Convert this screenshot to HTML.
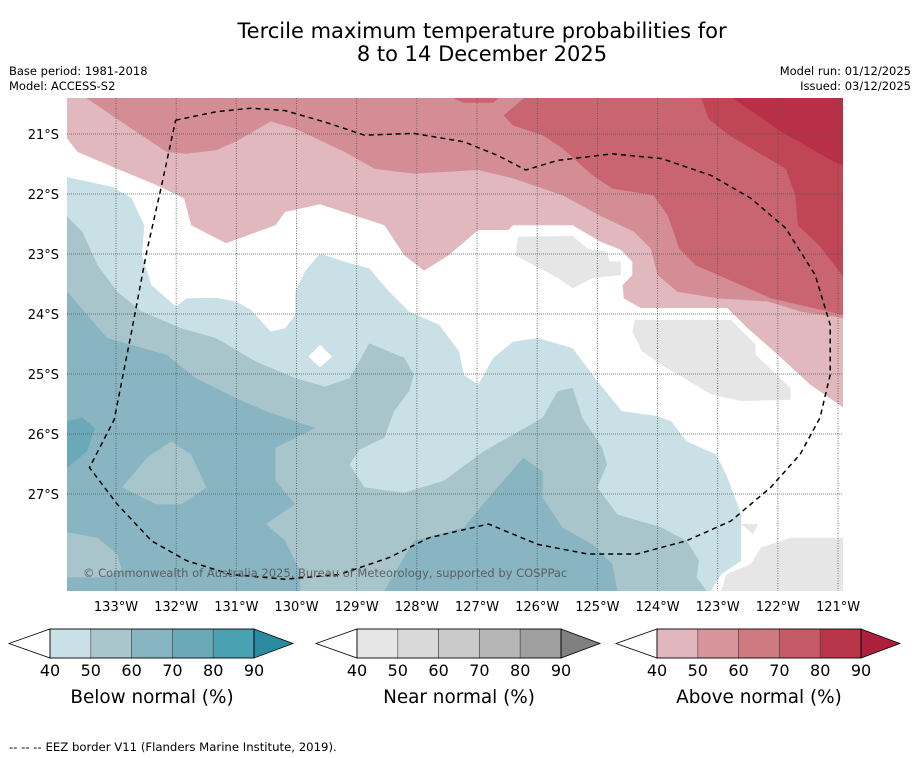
<!DOCTYPE html>
<html><head><meta charset="utf-8">
<style>
html,body{margin:0;padding:0;background:#fff;}
svg{display:block;font-family:"DejaVu Sans","Liberation Sans",sans-serif;}
</style></head>
<body>
<svg id="chart" width="919" height="758" viewBox="0 0 919 758">
<rect x="0" y="0" width="919" height="758" fill="#fff"/>
<text x="482" y="38" font-size="21" text-anchor="middle" fill="#000">Tercile maximum temperature probabilities for</text>
<text x="482" y="61" font-size="21" text-anchor="middle" fill="#000">8 to 14 December 2025</text>
<text x="9" y="75" font-size="11.5" fill="#000">Base period: 1981-2018</text>
<text x="9" y="90" font-size="11.5" fill="#000">Model: ACCESS-S2</text>
<text x="911" y="75" font-size="11.5" fill="#000" text-anchor="end">Model run: 01/12/2025</text>
<text x="911" y="90" font-size="11.5" fill="#000" text-anchor="end">Issued: 03/12/2025</text>
<defs><clipPath id="mapclip"><rect x="67" y="98" width="776" height="493"/></clipPath></defs>
<g id="map" clip-path="url(#mapclip)"></g>
<g id="axes"></g>
<g id="bars"></g>
<text x="9" y="751" font-size="11.7" fill="#000">--  --  -- EEZ border V11 (Flanders Marine Institute, 2019).</text>
</svg>
<script>
// ---- data ----
const lonTicks = [133,132,131,130,129,128,127,126,125,124,123,122,121];
const latTicks = [21,22,23,24,25,26,27];
const cbLevels = ["40","50","60","70","80","90"];
const belowColors = ["#c9e0e6","#a8c6cc","#88b5c2","#6aaab8","#49a1b1"];
const belowExt = "#2b8ba0";
const nearColors = ["#e6e6e6","#d9d9d9","#cacaca","#b6b6b6","#a0a0a0"];
const nearExt = "#808080";
const aboveColors = ["#e1b7bd","#d8949b","#cf7a81","#c55b67","#b9364a"];
const aboveExt = "#ad1f3a";

// contour regions [lonW, latS]
const above40 = [[133.9,21.08],[133.81,21.08],[133.64,21.30],[132.98,21.58],[132.33,21.85],[131.87,22.07],[131.75,22.52],[131.17,22.82],[130.35,22.52],[130.19,22.30],[129.61,22.17],[128.54,22.52],[128.21,23.02],[127.88,23.28],[127.47,23.02],[126.98,22.60],[126.48,22.60],[126.40,22.52],[125.41,22.52],[124.94,22.80],[124.61,22.93],[124.42,23.13],[124.42,23.35],[124.58,23.52],[124.56,23.74],[124.28,23.90],[122.84,23.90],[122.50,24.24],[122.12,24.57],[121.46,25.18],[120.9,25.57],[120.8,25.6],[120.8,20.3],[133.9,20.3]];
const above50 = [[133.48,20.3],[133.48,20.41],[132.98,20.75],[132.49,21.08],[132.16,21.30],[131.83,21.33],[131.34,21.27],[131.01,21.13],[130.43,20.79],[130.02,20.91],[129.20,21.30],[128.70,21.58],[128.05,21.66],[126.98,21.60],[126.40,21.74],[125.58,22.02],[124.94,22.37],[124.39,22.63],[124.11,22.91],[124.0,23.35],[123.67,23.63],[123.0,23.74],[122.17,23.79],[121.62,23.96],[120.9,24.07],[120.8,24.1],[120.8,20.3]];
const above60 = [[126.23,20.3],[126.23,20.41],[126.56,20.69],[126.40,20.86],[125.91,21.02],[125.58,21.24],[125.08,21.69],[124.75,21.91],[124.07,22.02],[123.83,22.36],[123.64,22.91],[123.36,23.19],[122.11,23.74],[120.9,24.02],[120.8,24.05],[120.8,20.3]];
const above60b = [[127.39,20.3],[127.39,20.41],[127.22,20.48],[126.73,20.48],[126.65,20.41],[126.65,20.3]];
const above70 = [[123.27,20.3],[123.27,20.41],[123.15,20.75],[122.81,21.02],[121.87,21.58],[121.71,22.02],[121.67,22.52],[121.31,22.86],[120.9,23.40],[120.8,23.45],[120.8,20.3]];
const above80 = [[122.73,20.3],[122.73,20.41],[121.95,20.96],[121.07,21.46],[120.9,21.53],[120.8,21.55],[120.8,20.3]];
const below40 = [[133.9,21.72],[133.81,21.72],[133.07,21.88],[132.74,22.07],[132.53,22.52],[132.57,23.02],[132.41,23.52],[132.0,23.88],[131.83,23.74],[131.34,23.73],[131.01,23.79],[130.76,23.93],[130.43,24.29],[130.19,24.24],[130.02,24.01],[130.02,23.63],[129.86,23.29],[129.61,22.99],[129.20,23.13],[128.79,23.24],[128.46,23.63],[128.13,23.96],[127.63,24.18],[127.30,24.62],[127.22,25.01],[126.98,25.18],[126.73,24.73],[126.40,24.46],[125.99,24.40],[125.41,24.57],[125.0,25.12],[124.59,25.62],[124.01,25.70],[123.77,25.79],[123.52,26.12],[123.03,26.34],[122.86,26.67],[122.61,27.34],[122.61,28.11],[122.94,28.34],[123.11,28.61],[123.11,28.8],[133.9,28.8]];
const whiteHole = [[129.61,24.51],[129.41,24.71],[129.61,24.89],[129.80,24.71]];
const below50 = [[133.9,22.38],[133.81,22.38],[133.56,22.63],[133.31,23.18],[132.98,23.63],[132.57,23.96],[131.91,24.24],[131.34,24.40],[130.68,24.79],[130.02,25.07],[129.53,25.21],[129.12,25.07],[128.79,24.49],[128.21,24.73],[128.05,25.01],[128.13,25.29],[128.38,25.62],[128.54,26.06],[128.95,26.26],[129.12,26.51],[128.87,26.89],[128.21,26.98],[127.55,26.78],[126.89,26.29],[126.40,26.01],[125.91,25.73],[125.66,25.29],[125.41,25.23],[125.25,25.73],[124.92,26.23],[124.84,26.51],[125.0,26.89],[124.67,27.34],[123.93,27.56],[123.52,27.78],[123.31,28.11],[123.35,28.39],[123.19,28.61],[123.19,28.8],[133.9,28.8]];
const below60 = [[133.9,23.63],[133.81,23.63],[133.15,24.40],[132.16,24.68],[131.67,25.07],[131.01,25.40],[130.51,25.62],[129.69,25.90],[130.35,26.23],[130.35,26.78],[130.02,27.17],[130.51,27.50],[130.19,27.78],[129.94,28.28],[129.94,28.8],[133.9,28.8]];
const below50p1 = [[132.90,26.89],[132.49,26.40],[132.08,26.12],[131.75,26.34],[131.50,26.89],[131.91,27.17],[132.33,27.17]];
const below50p2 = [[133.9,27.64],[133.81,27.64],[133.31,27.73],[132.98,28.0],[132.90,28.28],[133.23,28.39],[133.9,28.39]];
const below70p = [[133.9,25.79],[133.81,25.79],[133.56,25.73],[133.35,25.90],[133.48,26.29],[133.81,26.56],[133.9,26.6]];
const below60b = [[128.54,28.8],[128.54,28.61],[128.05,27.78],[127.22,27.56],[126.81,27.06],[126.23,26.40],[125.91,26.62],[125.91,27.06],[125.58,27.56],[125.08,27.84],[124.75,28.17],[124.67,28.61],[124.67,28.8]];
const near40a = [[126.32,22.71],[125.41,22.70],[125.16,22.91],[124.84,22.96],[124.80,23.12],[124.61,23.13],[124.61,23.35],[125.08,23.40],[125.41,23.57],[125.66,23.40],[126.07,23.18],[126.36,23.02]];
const near40b = [[124.38,24.10],[122.78,24.10],[122.37,24.51],[122.37,24.68],[121.79,25.23],[121.79,25.43],[122.61,25.45],[123.11,25.34],[123.93,24.85],[124.26,24.62],[124.42,24.29]];
const near40c = [[122.94,28.8],[122.94,28.61],[122.86,28.34],[122.45,28.17],[122.28,27.89],[121.79,27.73],[120.8,27.73],[120.8,28.8]];
const near40d = [[122.61,27.50],[122.33,27.50],[122.41,27.67]];
const eezLine = [[132.01,20.77],[131.34,20.63],[130.76,20.57],[130.19,20.61],[129.53,20.80],[128.87,21.02],[128.05,20.99],[127.22,21.13],[126.65,21.36],[126.19,21.60],[125.66,21.44],[124.75,21.33],[123.93,21.41],[123.11,21.69],[122.45,22.07],[121.87,22.57],[121.38,23.35],[121.13,24.18],[121.13,25.01],[121.30,25.73],[121.63,26.34],[122.12,26.89],[122.78,27.45],[123.52,27.78],[124.34,28.0],[125.16,28.0],[125.99,27.84],[126.81,27.50],[127.80,27.73],[128.46,28.06],[129.28,28.34],[130.19,28.42],[131.09,28.34],[131.83,28.11],[132.41,27.78],[132.98,27.17],[133.44,26.56],[133.03,25.76],[132.74,24.29],[132.49,22.96],[132.24,21.85],[132.01,20.77]];

// ---- axis functions ----
function xLon(lon){ return 116 + (133 - lon) * 60.17; }
function yLat(lat){ return 134 + (lat - 21) * 60; }
const NS = "http://www.w3.org/2000/svg";
function mk(tag, attrs, parent){ const e = document.createElementNS(NS, tag); for (const k in attrs) e.setAttribute(k, attrs[k]); parent.appendChild(e); return e; }
function pts(arr){ return arr.map(p => xLon(p[0]).toFixed(1) + "," + yLat(p[1]).toFixed(1)).join(" "); }

const map = document.getElementById("map");
const layers = [
  ["above-40-region", above40, "#e0b8bd"],
  ["above-50-region", above50, "#d48d95"],
  ["above-60-region", above60, "#c96570"],
  ["above-60-region-top", above60b, "#c96570"],
  ["above-70-region", above70, "#c04555"],
  ["above-80-region", above80, "#b83048"],
  ["below-40-region", below40, "#c9e0e6"],
  ["white-hole", whiteHole, "#ffffff"],
  ["below-50-region", below50, "#a8c5cb"],
  ["below-60-region", below60, "#88b5c1"],
  ["below-50-patch-1", below50p1, "#a8c5cb"],
  ["below-50-patch-2", below50p2, "#a8c5cb"],
  ["below-70-patch", below70p, "#6aaab8"],
  ["below-60-region-south", below60b, "#88b5c1"],
  ["near-40-patch-1", near40a, "#e6e6e6"],
  ["near-40-patch-2", near40b, "#e6e6e6"],
  ["near-40-patch-3", near40c, "#e6e6e6"],
  ["near-40-patch-4", near40d, "#e6e6e6"]
];
layers.forEach(L => {
  const p = mk("polygon", {points: pts(L[1]), fill: L[2]}, map);
  
  
});
lonTicks.forEach(lon => {
  const l = mk("line", {x1: xLon(lon), x2: xLon(lon), y1: 98, y2: 591, stroke: "#555", "stroke-width": 0.8, "stroke-dasharray": "1,1.5"}, map);
  
  
});
latTicks.forEach(lat => {
  const l = mk("line", {x1: 67, x2: 843, y1: yLat(lat), y2: yLat(lat), stroke: "#555", "stroke-width": 0.8, "stroke-dasharray": "1,1"}, map);
  
  
});
const eez = mk("polyline", {points: pts(eezLine), fill: "none", stroke: "#000", "stroke-width": 1.5, "stroke-dasharray": "5,4"}, map);


const cr = mk("text", {x: 83, y: 577, "font-size": 11.5, fill: "#555", "fill-opacity": 0.9}, map);
cr.textContent = "© Commonwealth of Australia 2025, Bureau of Meteorology, supported by COSPPac";



const axes = document.getElementById("axes");
lonTicks.forEach(lon => {
  const t = mk("text", {x: xLon(lon), y: 611, "font-size": 13, "text-anchor": "middle", fill: "#000"}, axes);
  t.textContent = lon + "°W";
  
  
});
latTicks.forEach(lat => {
  const t = mk("text", {x: 59, y: yLat(lat) + 5, "font-size": 13, "text-anchor": "end", fill: "#000"}, axes);
  t.textContent = lat + "°S";
  
  
});

const bars = document.getElementById("bars");
function colorbar(x0, colors, ext, title, name){
  const w = 40.8, y0 = 629, h = 29, ym = y0 + h/2;
  const g = mk("g", {}, bars);
  
  
  const lt = mk("polygon", {points: (x0-41)+","+ym+" "+x0+","+y0+" "+x0+","+(y0+h), fill: "#fff", stroke: "#000", "stroke-width": 0.8}, g);
  
  
  colors.forEach((c, i) => {
    const r = mk("rect", {x: x0 + i*w, y: y0, width: w, height: h, fill: c, stroke: "#444", "stroke-width": 0.6}, g);
    
    
  });
  const xe = x0 + colors.length*w;
  const rt = mk("polygon", {points: xe+","+y0+" "+(xe+39)+","+ym+" "+xe+","+(y0+h), fill: ext, stroke: "#000", "stroke-width": 0.8}, g);
  
  
  const ol = mk("rect", {x: x0, y: y0, width: colors.length*w, height: h, fill: "none", stroke: "#000", "stroke-width": 0.8}, g);
  
  
  cbLevels.forEach((lv, i) => {
    const t = mk("text", {x: x0 + i*w, y: 676, "font-size": 16, "text-anchor": "middle", fill: "#000"}, g);
    t.textContent = lv;
    
    
  });
  const tt = mk("text", {x: x0 + colors.length*w/2, y: 703, "font-size": 18.4, "text-anchor": "middle", fill: "#000"}, g);
  tt.textContent = title;
  
  
}
colorbar(50, belowColors, belowExt, "Below normal (%)", "below-normal-colorbar");
colorbar(357, nearColors, nearExt, "Near normal (%)", "near-normal-colorbar");
colorbar(657, aboveColors, aboveExt, "Above normal (%)", "above-normal-colorbar");
</script>
</body></html>
